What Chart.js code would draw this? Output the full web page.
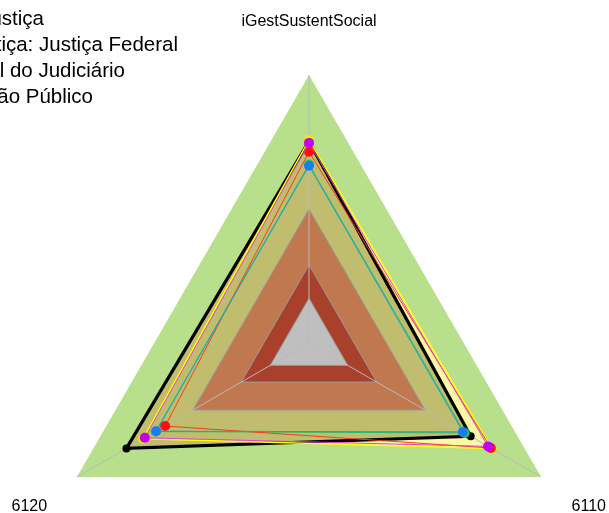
<!DOCTYPE html>
<html>
<head>
<meta charset="utf-8">
<script src="https://cdn.jsdelivr.net/npm/chart.js@4.4.1/dist/chart.umd.min.js"></script>
<style>
  html, body { margin: 0; padding: 0; overflow: hidden; background: #fff; }
</style>
</head>
<body>
<canvas id="myChart" width="609" height="611"></canvas>
<script>
const axisLabels = ["iGestSustentSocial", "6110", "6120"];
const legendLabels = ["Justiça", "Justiça: Justiça Federal", "Justiça: Órgão Central do Judiciário", "Justiça: Órgão Público"];

// limites das faixas de referência
const bandLimits = [100, 40, 15, 0];

// valores por eixo: iGestSustentSocial, 6110, 6120
const justica = [70.4, 63.6, 74.4];
const amarelo = [70.9, 74.5, 65.8];
const verde = [59.9, 60.5, 59.3];
const vermelho = [65.6, 74.0, 54.4];
const azul = [59.4, 59.6, 59.0];
const magenta = [69.6, 72.6, 64.9];

const bandColors = ["#b8df8b", "#c0794f", "#a8402c", "#bfbfbf"];
const bandOrder = [100, 85, 80, 75];

const datasets = [];
bandLimits.forEach((v, i) => {
  datasets.push({
    label: "faixa " + v,
    data: axisLabels.map(() => v),
    backgroundColor: bandColors[i],
    borderColor: i === 0 ? "rgba(0,0,0,0)" : "#9a9a9a",
    borderWidth: i === 0 ? 0 : 1,
    pointRadius: 0,
    fill: "start",
    order: bandOrder[i],
  });
});
// areas
datasets.push({ label: "area amarelo", data: amarelo, backgroundColor: "#fcf8a4", borderWidth: 0, pointRadius: 0, fill: "start", order: 95 });
datasets.push({ label: "area justica", data: justica, backgroundColor: "#c0bd6e", borderWidth: 0, pointRadius: 0, fill: "start", order: 90 });

const series = [
  { label: legendLabels[0], data: justica, line: "#000000", point: "#000000", width: 3.2, r: 4, order: 6 },
  { label: "amarelo", data: amarelo, line: "#ffff00", point: "#f2e800", width: 1.5, r: 5, order: 5 },
  { label: "verde", data: verde, line: "#22c06a", point: "#1fcf5c", width: 1, r: 5, order: 4 },
  { label: legendLabels[2], data: vermelho, line: "#ff3a1a", point: "#ff1010", width: 1, r: 5, order: 3 },
  { label: legendLabels[3], data: azul, line: "#19a6c6", point: "#1a7cf0", width: 1, r: 5, order: 2 },
  { label: legendLabels[1], data: magenta, line: "#e040e0", point: "#c400f2", width: 1, r: 5, order: 1 },
];
series.forEach((s) => {
  datasets.push({
    label: s.label,
    data: s.data,
    borderColor: s.line,
    borderWidth: s.width,
    backgroundColor: s.point,
    pointBackgroundColor: s.point,
    pointBorderColor: s.point,
    pointBorderWidth: 0,
    pointRadius: s.r,
    fill: false,
    order: s.order,
  });
});

const innerBand = bandLimits.length - 1;

// linhas dos eixos por cima das faixas
const angleLines = {
  id: "angleLines",
  afterDatasetDraw(chart, args) {
    if (args.index !== innerBand) return;
    const scale = chart.scales.r;
    const ctx = chart.ctx;
    ctx.save();
    ctx.strokeStyle = "#bababa";
    ctx.lineWidth = 1;
    axisLabels.forEach((l, i) => {
      const p = scale.getPointPosition(i, scale.drawingArea);
      ctx.beginPath();
      ctx.moveTo(scale.xCenter, scale.yCenter);
      ctx.lineTo(p.x, p.y);
      ctx.stroke();
    });
    ctx.restore();
  },
};

const textLabels = {
  id: "textLabels",
  afterDraw(chart) {
    const scale = chart.scales.r;
    const ctx = chart.ctx;
    ctx.save();
    ctx.fillStyle = "#000";
    ctx.font = "16px 'Liberation Sans', Arial, sans-serif";
    ctx.textAlign = "center";
    ctx.textBaseline = "middle";
    axisLabels.forEach((l, i) => {
      const p = scale.getPointPosition(i, scale.drawingArea + 55);
      ctx.fillText(l, p.x, p.y + 2);
    });
    // legenda (cortada à esquerda)
    ctx.font = "20.5px 'Liberation Sans', Arial, sans-serif";
    ctx.textAlign = "right";
    ctx.textBaseline = "alphabetic";
    const ends = [44, 178, 125, 93];
    legendLabels.forEach((l, i) => {
      ctx.fillText(l, ends[i], 25 + i * 26);
    });
    ctx.restore();
  },
};

const ctx = document.getElementById("myChart");
new Chart(ctx, {
  type: "radar",
  data: { labels: axisLabels, datasets: datasets },
  options: {
    responsive: false,
    animation: false,
    events: [],
    layout: { padding: { left: 41, right: 32, top: 75, bottom: 0 } },
    elements: { line: { tension: 0 } },
    scales: {
      r: {
        min: -20,
        max: 100,
        ticks: { display: false },
        grid: { display: false },
        angleLines: { display: false },
        pointLabels: { display: false },
      },
    },
    plugins: {
      legend: { display: false },
      tooltip: { enabled: false },
    },
  },
  plugins: [angleLines, textLabels],
});
</script>
</body>
</html>
